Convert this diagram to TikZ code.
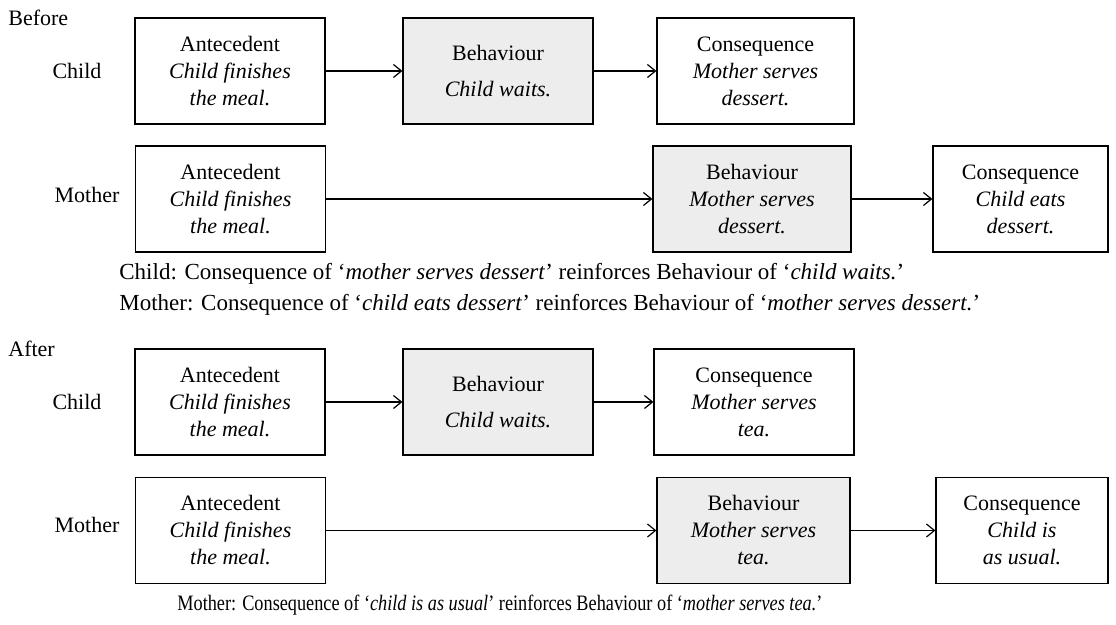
\documentclass[tikz,border=0pt]{standalone}
\usepackage{fontspec}
\setmainfont{Liberation Serif}
\newfontfamily\narrowserif[Ligatures=TeX,FakeStretch=0.83]{Liberation Serif}
\usepackage{tikz}
\usetikzlibrary{arrows.meta}

\begin{document}
\begin{tikzpicture}[x=0.5pt,y=-0.5pt,
    every node/.style={font=\fontsize{11}{13.5}\selectfont},
    abc/.style={draw,line width=0.6pt,align=center,minimum width=95pt,minimum height=53pt,inner sep=0pt},
    beh/.style={abc,fill=black!7},
    lbl/.style={anchor=base,inner sep=0pt},
    note/.style={anchor=base west,inner sep=0pt},
    arr/.style={-{Straight Barb[length=4pt,width=6.5pt]},line width=0.6pt}]
  \useasboundingbox (0,0) rectangle (1116,625);

  % before
  \node[note] (before) at (8,26) {Before};
  \node[lbl] (child1) at (77,79) {Child};
  \node[abc] (ante1) at (230,71) {Antecedent\\\textit{Child finishes}\\\textit{the meal.}};
  \node[beh] (beh1) at (498,71) {Behaviour\\[4.5pt]\textit{Child waits.}};
  \node[abc,minimum width=98.5pt] (cons1) at (755.5,71) {Consequence\\\textit{Mother serves}\\\textit{dessert.}};
  \draw[arr] (ante1) -- (beh1);
  \draw[arr] (beh1) -- (cons1);

  \node[lbl] (mother2) at (87,203) {Mother};
  \node[abc] (ante2) at (230.5,199) {Antecedent\\\textit{Child finishes}\\\textit{the meal.}};
  \node[beh,minimum width=99pt] (beh2) at (752,199) {Behaviour\\\textit{Mother serves}\\\textit{dessert.}};
  \node[abc,minimum width=87.5pt] (cons2) at (1020.5,199) {Consequence\\\textit{Child eats}\\\textit{dessert.}};
  \draw[arr] (ante2) -- (beh2);
  \draw[arr] (beh2) -- (cons2);

  \node[note,font=\fontsize{11.5}{13.5}\selectfont] (note1) at (119,280) {Child: Consequence of `\textit{mother serves dessert}' reinforces Behaviour of `\textit{child waits.}'};
  \node[note,font=\fontsize{11.5}{13.5}\selectfont] (note2) at (119,311) {Mother: Consequence of `\textit{child eats dessert}' reinforces Behaviour of `\textit{mother serves dessert.}'};

  % after
  \node[note] (after) at (8,357) {After};
  \node[lbl] (child3) at (77,410) {Child};
  \node[abc] (ante3) at (230,402) {Antecedent\\\textit{Child finishes}\\\textit{the meal.}};
  \node[beh] (beh3) at (498,402) {Behaviour\\[4.5pt]\textit{Child waits.}};
  \node[abc,minimum width=100pt] (cons3) at (754,402) {Consequence\\\textit{Mother serves}\\\textit{tea.}};
  \draw[arr] (ante3) -- (beh3);
  \draw[arr] (beh3) -- (cons3);

  \node[lbl] (mother4) at (87,533) {Mother};
  \node[abc] (ante4) at (230.5,530.5) {Antecedent\\\textit{Child finishes}\\\textit{the meal.}};
  \node[beh,minimum width=96.5pt] (beh4) at (753.5,530.5) {Behaviour\\\textit{Mother serves}\\\textit{tea.}};
  \node[abc,minimum width=86pt] (cons4) at (1022,530.5) {Consequence\\\textit{Child is}\\\textit{as usual.}};
  \draw[arr] (ante4) -- (beh4);
  \draw[arr] (beh4) -- (cons4);

  \node[note,font=\narrowserif\fontsize{11}{13.5}\selectfont] (note3) at (177,611) {Mother: Consequence of `\textit{child is as usual}' reinforces Behaviour of `\textit{mother serves tea.}'};
\end{tikzpicture}
\end{document}
